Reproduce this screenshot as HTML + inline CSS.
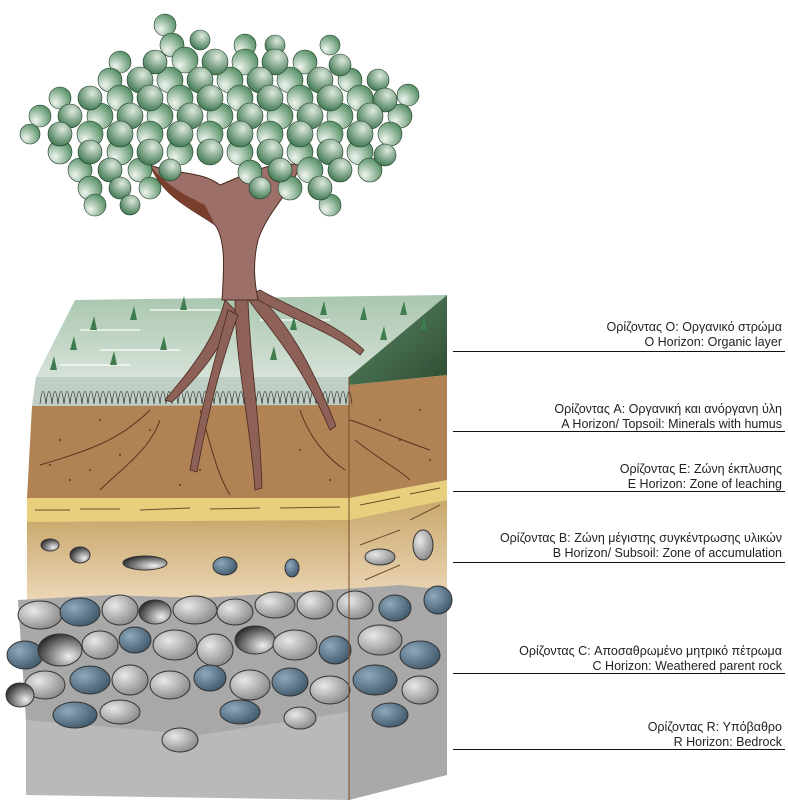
<!DOCTYPE html>
<html><head><meta charset="utf-8"><style>
html,body{margin:0;padding:0;background:#fff;}
svg{display:block}
text{font-family:"Liberation Sans",sans-serif;font-size:12.5px;fill:#222;}
</style></head><body>
<svg width="788" height="810" viewBox="0 0 788 810" xmlns="http://www.w3.org/2000/svg">
<defs>
<linearGradient id="gr" x1="0" y1="0" x2="0" y2="1"><stop offset="0" stop-color="#a9c6ae"/><stop offset="1" stop-color="#d6e2d8"/></linearGradient>
<linearGradient id="gside" x1="0" y1="0" x2="1" y2="1"><stop offset="0" stop-color="#5e8a66"/><stop offset="1" stop-color="#2f4d33"/></linearGradient>
<linearGradient id="tan" x1="0" y1="0" x2="0" y2="1"><stop offset="0" stop-color="#c9a86c"/><stop offset="1" stop-color="#f0dcc0"/></linearGradient>
<radialGradient id="rk" cx="0.35" cy="0.35" r="0.7"><stop offset="0" stop-color="#e8e8e8"/><stop offset="1" stop-color="#8a8a8a"/></radialGradient>
<radialGradient id="rb" cx="0.35" cy="0.35" r="0.7"><stop offset="0" stop-color="#8fa9bd"/><stop offset="1" stop-color="#40596b"/></radialGradient>
<radialGradient id="rd" cx="0.7" cy="0.7" r="0.8"><stop offset="0" stop-color="#eee"/><stop offset="1" stop-color="#222"/></radialGradient>
<radialGradient id="lf" cx="0.3" cy="0.7" r="0.8"><stop offset="0" stop-color="#f0f5f0"/><stop offset="1" stop-color="#4d8a5d"/></radialGradient>
<radialGradient id="lf2" cx="0.6" cy="0.3" r="0.8"><stop offset="0" stop-color="#dde9de"/><stop offset="1" stop-color="#2f6b41"/></radialGradient>
</defs>

<!-- R bedrock -->
<polygon points="26,700 349,700 349,800 26,795" fill="#b9b9b9"/>
<polygon points="349,700 447,690 447,775 349,800" fill="#a9a9a9"/>
<!-- B -->
<polygon points="27,520 349,518 349,610 27,610" fill="url(#tan)"/>
<polygon points="349,518 447,500 447,600 349,610" fill="url(#tan)"/>
<!-- E -->
<polygon points="27,498 349,496 349,520 27,522" fill="#e8cf7e"/>
<polygon points="349,496 447,480 447,500 349,520" fill="#e8cf7e"/>
<g stroke="#6b4e2a" stroke-width="1">
<line x1="35" y1="510" x2="70" y2="510"/><line x1="80" y1="509" x2="120" y2="509"/><line x1="140" y1="510" x2="190" y2="508"/><line x1="210" y1="509" x2="260" y2="508"/><line x1="280" y1="508" x2="340" y2="507"/>
<line x1="360" y1="505" x2="400" y2="497"/><line x1="410" y1="494" x2="440" y2="488"/>
<line x1="360" y1="545" x2="400" y2="530"/><line x1="365" y1="580" x2="400" y2="565"/><line x1="410" y1="520" x2="440" y2="505"/>
</g>
<!-- A -->
<polygon points="32,406 349,404 349,498 27,498" fill="#b08254"/>
<polygon points="349,385 447,375 447,480 349,498" fill="#b08254"/>
<g fill="#5a3a1e">
<circle cx="60" cy="440" r="1"/><circle cx="90" cy="470" r="1"/><circle cx="120" cy="455" r="1"/><circle cx="70" cy="480" r="1"/><circle cx="150" cy="430" r="1"/><circle cx="200" cy="470" r="1"/><circle cx="180" cy="485" r="1"/><circle cx="300" cy="450" r="1"/><circle cx="330" cy="480" r="1"/><circle cx="380" cy="420" r="1"/><circle cx="400" cy="440" r="1"/><circle cx="420" cy="410" r="1"/><circle cx="430" cy="460" r="1"/><circle cx="100" cy="420" r="1"/><circle cx="260" cy="480" r="1"/><circle cx="50" cy="465" r="1"/>
</g>
<g stroke="#5a3420" stroke-width="1" fill="none">
<path d="M150,410 C120,440 90,450 40,465"/><path d="M160,420 C150,450 120,470 100,490"/><path d="M200,410 C210,440 215,470 230,495"/><path d="M300,410 C310,440 330,460 345,470"/><path d="M350,420 C380,430 400,440 430,450"/><path d="M355,440 C380,460 400,470 410,480"/>
</g>
<!-- C rocks -->
<polygon points="18,600 110,595 200,598 300,592 400,585 447,590 447,700 349,712 200,735 26,720" fill="#a8a8a8"/>
<g stroke="#333" stroke-width="1">
<ellipse cx="40" cy="615" rx="22" ry="14" fill="url(#rk)"/><ellipse cx="80" cy="612" rx="20" ry="14" fill="url(#rb)"/><ellipse cx="120" cy="610" rx="18" ry="15" fill="url(#rk)"/><ellipse cx="155" cy="612" rx="16" ry="12" fill="url(#rd)"/><ellipse cx="195" cy="610" rx="22" ry="14" fill="url(#rk)"/><ellipse cx="235" cy="612" rx="18" ry="13" fill="url(#rk)"/><ellipse cx="275" cy="605" rx="20" ry="13" fill="url(#rk)"/><ellipse cx="315" cy="605" rx="18" ry="14" fill="url(#rk)"/><ellipse cx="355" cy="605" rx="18" ry="14" fill="url(#rk)"/><ellipse cx="395" cy="608" rx="16" ry="13" fill="url(#rb)"/><ellipse cx="438" cy="600" rx="14" ry="14" fill="url(#rb)"/>
<ellipse cx="25" cy="655" rx="18" ry="14" fill="url(#rb)"/><ellipse cx="60" cy="650" rx="22" ry="16" fill="url(#rd)"/><ellipse cx="100" cy="645" rx="18" ry="14" fill="url(#rk)"/><ellipse cx="135" cy="640" rx="16" ry="13" fill="url(#rb)"/><ellipse cx="175" cy="645" rx="22" ry="15" fill="url(#rk)"/><ellipse cx="215" cy="650" rx="18" ry="16" fill="url(#rk)"/><ellipse cx="255" cy="640" rx="20" ry="14" fill="url(#rd)"/><ellipse cx="295" cy="645" rx="22" ry="15" fill="url(#rk)"/><ellipse cx="335" cy="650" rx="16" ry="14" fill="url(#rb)"/><ellipse cx="380" cy="640" rx="22" ry="15" fill="url(#rk)"/><ellipse cx="420" cy="655" rx="20" ry="14" fill="url(#rb)"/>
<ellipse cx="45" cy="685" rx="20" ry="14" fill="url(#rk)"/><ellipse cx="90" cy="680" rx="20" ry="14" fill="url(#rb)"/><ellipse cx="130" cy="680" rx="18" ry="15" fill="url(#rk)"/><ellipse cx="170" cy="685" rx="20" ry="14" fill="url(#rk)"/><ellipse cx="210" cy="678" rx="16" ry="13" fill="url(#rb)"/><ellipse cx="250" cy="685" rx="20" ry="15" fill="url(#rk)"/><ellipse cx="290" cy="682" rx="18" ry="14" fill="url(#rb)"/><ellipse cx="330" cy="690" rx="20" ry="14" fill="url(#rk)"/><ellipse cx="375" cy="680" rx="22" ry="15" fill="url(#rb)"/><ellipse cx="420" cy="690" rx="18" ry="14" fill="url(#rk)"/>
<ellipse cx="20" cy="695" rx="14" ry="12" fill="url(#rd)"/><ellipse cx="75" cy="715" rx="22" ry="13" fill="url(#rb)"/><ellipse cx="120" cy="712" rx="20" ry="12" fill="url(#rk)"/><ellipse cx="240" cy="712" rx="20" ry="12" fill="url(#rb)"/><ellipse cx="180" cy="740" rx="18" ry="12" fill="url(#rk)"/><ellipse cx="390" cy="715" rx="18" ry="12" fill="url(#rb)"/><ellipse cx="300" cy="718" rx="16" ry="11" fill="url(#rk)"/>
<ellipse cx="80" cy="555" rx="10" ry="8" fill="url(#rd)"/><ellipse cx="145" cy="563" rx="22" ry="7" fill="url(#rd)"/><ellipse cx="225" cy="566" rx="12" ry="9" fill="url(#rb)"/><ellipse cx="292" cy="568" rx="7" ry="9" fill="url(#rb)"/><ellipse cx="380" cy="557" rx="15" ry="8" fill="url(#rk)"/><ellipse cx="423" cy="545" rx="10" ry="15" fill="url(#rk)"/><ellipse cx="50" cy="545" rx="9" ry="6" fill="url(#rd)"/>
</g>
<!-- O layer front band -->
<polygon points="36,377 349,377 349,405 32,406" fill="#bfcfc5"/>
<path d="M40,404 q3,-25 6,0 q3,-25 6,0 q3,-25 6,0 q3,-25 6,0 q3,-25 6,0 q3,-25 6,0 q3,-25 6,0 q3,-25 6,0 q3,-25 6,0 q3,-25 6,0 q3,-25 6,0 q3,-25 6,0 q3,-25 6,0 q3,-25 6,0 q3,-25 6,0 q3,-25 6,0 q3,-25 6,0 q3,-25 6,0 q3,-25 6,0 q3,-25 6,0 q3,-25 6,0 q3,-25 6,0 q3,-25 6,0 q3,-25 6,0 q3,-25 6,0 q3,-25 6,0 q3,-25 6,0 q3,-25 6,0 q3,-25 6,0 q3,-25 6,0 q3,-25 6,0 q3,-25 6,0 q3,-25 6,0 q3,-25 6,0 q3,-25 6,0 q3,-25 6,0 q3,-25 6,0 q3,-25 6,0 q3,-25 6,0 q3,-25 6,0 q3,-25 6,0 q3,-25 6,0 q3,-25 6,0 q3,-25 6,0 q3,-25 6,0 q3,-25 6,0 q3,-25 6,0 q3,-25 6,0 q3,-25 6,0 q3,-25 6,0 q3,-25 6,0 q3,-25 6,0" stroke="#333" stroke-width="0.7" fill="none"/>
<!-- top surface -->
<polygon points="36,377 75,300 447,295 349,377" fill="url(#gr)"/>
<polygon points="349,377 447,295 447,375 349,385" fill="url(#gside)"/>
<g stroke="#fff" stroke-width="2" opacity="0.6">
<line x1="80" y1="330" x2="140" y2="330"/><line x1="100" y1="350" x2="180" y2="350"/><line x1="260" y1="320" x2="330" y2="320"/><line x1="60" y1="365" x2="130" y2="365"/><line x1="150" y1="310" x2="220" y2="310"/>
</g>
<g fill="#3f7d4f">
<path d="M90,330 l4,-14 l3,14z"/><path d="M130,320 l4,-14 l3,14z"/><path d="M160,350 l4,-14 l3,14z"/><path d="M70,350 l4,-14 l3,14z"/><path d="M110,365 l4,-14 l3,14z"/><path d="M290,330 l4,-14 l3,14z"/><path d="M320,315 l4,-14 l3,14z"/><path d="M360,320 l4,-14 l3,14z"/><path d="M400,315 l4,-14 l3,14z"/><path d="M180,310 l4,-14 l3,14z"/><path d="M50,370 l4,-14 l3,14z"/><path d="M270,360 l4,-14 l3,14z"/><path d="M380,340 l4,-14 l3,14z"/><path d="M420,330 l4,-14 l3,14z"/>
</g>
<line x1="349" y1="377" x2="349" y2="800" stroke="#7a4a2a" stroke-width="1"/>
<!-- roots -->
<g fill="#8d6058" stroke="#4a2a20" stroke-width="0.8">
<path d="M225,300 C215,340 190,370 165,400 L172,402 C200,375 225,345 235,310z"/>
<path d="M235,300 C235,360 250,420 255,490 L262,488 C260,420 250,360 248,300z"/>
<path d="M245,295 C270,330 300,360 330,430 L336,426 C310,360 285,320 258,295z"/>
<path d="M250,295 C290,320 330,330 360,355 L364,350 C335,322 295,310 260,290z"/>
<path d="M228,310 C215,360 200,410 190,470 L197,472 C208,410 222,360 238,315z"/>
</g>
<!-- trunk -->
<path d="M150,165 C175,175 200,170 220,185 C245,175 270,160 300,165 C290,195 268,210 258,240 C252,265 255,285 258,300 L222,300 C224,270 226,240 215,225 C195,210 165,200 150,165z" fill="#9c7068" stroke="#4a2a20" stroke-width="1"/>
<path d="M150,165 C165,185 185,195 205,205 L215,225 C195,210 165,200 150,165z" fill="#7a3e2c"/>
<!-- canopy leaves -->
<g stroke="#1f3a26" stroke-width="0.6">
<g fill="url(#lf)">
<circle cx="165" cy="25" r="11"/><circle cx="172" cy="45" r="12"/><circle cx="245" cy="45" r="11"/><circle cx="330" cy="45" r="10"/>
<circle cx="120" cy="62" r="11"/><circle cx="185" cy="60" r="13"/><circle cx="245" cy="62" r="13"/><circle cx="305" cy="62" r="12"/>
<circle cx="110" cy="80" r="12"/><circle cx="170" cy="80" r="13"/><circle cx="230" cy="80" r="13"/><circle cx="290" cy="80" r="13"/><circle cx="350" cy="80" r="12"/>
<circle cx="60" cy="98" r="11"/><circle cx="120" cy="98" r="13"/><circle cx="180" cy="98" r="13"/><circle cx="240" cy="98" r="13"/><circle cx="300" cy="98" r="13"/><circle cx="360" cy="98" r="13"/><circle cx="408" cy="95" r="11"/>
<circle cx="40" cy="116" r="11"/><circle cx="100" cy="116" r="13"/><circle cx="160" cy="116" r="13"/><circle cx="220" cy="116" r="13"/><circle cx="280" cy="116" r="13"/><circle cx="340" cy="116" r="13"/><circle cx="400" cy="116" r="12"/>
<circle cx="30" cy="134" r="10"/><circle cx="90" cy="134" r="13"/><circle cx="150" cy="134" r="13"/><circle cx="210" cy="134" r="13"/><circle cx="270" cy="134" r="13"/><circle cx="330" cy="134" r="13"/><circle cx="390" cy="134" r="12"/>
<circle cx="60" cy="152" r="12"/><circle cx="120" cy="152" r="13"/><circle cx="180" cy="152" r="13"/><circle cx="240" cy="152" r="13"/><circle cx="300" cy="152" r="13"/><circle cx="360" cy="152" r="13"/>
<circle cx="80" cy="170" r="12"/><circle cx="140" cy="170" r="12"/><circle cx="250" cy="172" r="12"/><circle cx="310" cy="170" r="13"/><circle cx="370" cy="170" r="12"/>
<circle cx="90" cy="188" r="12"/><circle cx="150" cy="188" r="11"/><circle cx="290" cy="188" r="12"/><circle cx="330" cy="205" r="11"/><circle cx="95" cy="205" r="11"/>
</g>
<g fill="url(#lf2)">
<circle cx="200" cy="40" r="10"/><circle cx="275" cy="45" r="10"/>
<circle cx="155" cy="62" r="12"/><circle cx="215" cy="62" r="13"/><circle cx="275" cy="62" r="13"/><circle cx="340" cy="65" r="11"/>
<circle cx="140" cy="80" r="13"/><circle cx="200" cy="80" r="13"/><circle cx="260" cy="80" r="13"/><circle cx="320" cy="80" r="13"/><circle cx="378" cy="80" r="11"/>
<circle cx="90" cy="98" r="12"/><circle cx="150" cy="98" r="13"/><circle cx="210" cy="98" r="13"/><circle cx="270" cy="98" r="13"/><circle cx="330" cy="98" r="13"/><circle cx="385" cy="100" r="12"/>
<circle cx="70" cy="116" r="12"/><circle cx="130" cy="116" r="13"/><circle cx="190" cy="116" r="13"/><circle cx="250" cy="116" r="13"/><circle cx="310" cy="116" r="13"/><circle cx="370" cy="116" r="13"/>
<circle cx="60" cy="134" r="12"/><circle cx="120" cy="134" r="13"/><circle cx="180" cy="134" r="13"/><circle cx="240" cy="134" r="13"/><circle cx="300" cy="134" r="13"/><circle cx="360" cy="134" r="13"/>
<circle cx="90" cy="152" r="12"/><circle cx="150" cy="152" r="13"/><circle cx="210" cy="152" r="13"/><circle cx="270" cy="152" r="13"/><circle cx="330" cy="152" r="13"/><circle cx="385" cy="155" r="11"/>
<circle cx="110" cy="170" r="12"/><circle cx="170" cy="170" r="11"/><circle cx="280" cy="170" r="12"/><circle cx="340" cy="170" r="12"/>
<circle cx="120" cy="188" r="11"/><circle cx="260" cy="188" r="11"/><circle cx="320" cy="188" r="12"/><circle cx="130" cy="205" r="10"/>
</g>
</g>
<!-- label lines -->
<g stroke="#111" stroke-width="1">
<line x1="453" y1="351.5" x2="785" y2="351.5"/><line x1="453" y1="431.5" x2="785" y2="431.5"/><line x1="453" y1="491.5" x2="785" y2="491.5"/><line x1="453" y1="562.5" x2="785" y2="562.5"/><line x1="453" y1="673.5" x2="785" y2="673.5"/><line x1="453" y1="749.5" x2="785" y2="749.5"/>
</g>
<g text-anchor="end">
<text x="782" y="331">Ορίζοντας O: Οργανικό στρώμα</text><text x="782" y="346">O Horizon: Organic layer</text>
<text x="782" y="413">Ορίζοντας A: Οργανική και ανόργανη ύλη</text><text x="782" y="428">A Horizon/ Topsoil: Minerals with humus</text>
<text x="782" y="473">Ορίζοντας E: Ζώνη έκπλυσης</text><text x="782" y="488">E Horizon: Zone of leaching</text>
<text x="782" y="542">Ορίζοντας B: Ζώνη μέγιστης συγκέντρωσης υλικών</text><text x="782" y="557">B Horizon/ Subsoil: Zone of accumulation</text>
<text x="782" y="655">Ορίζοντας C: Αποσαθρωμένο μητρικό πέτρωμα</text><text x="782" y="670">C Horizon: Weathered parent rock</text>
<text x="782" y="731">Ορίζοντας R: Υπόβαθρο</text><text x="782" y="746">R Horizon: Bedrock</text>
</g>
</svg>
</body></html>
